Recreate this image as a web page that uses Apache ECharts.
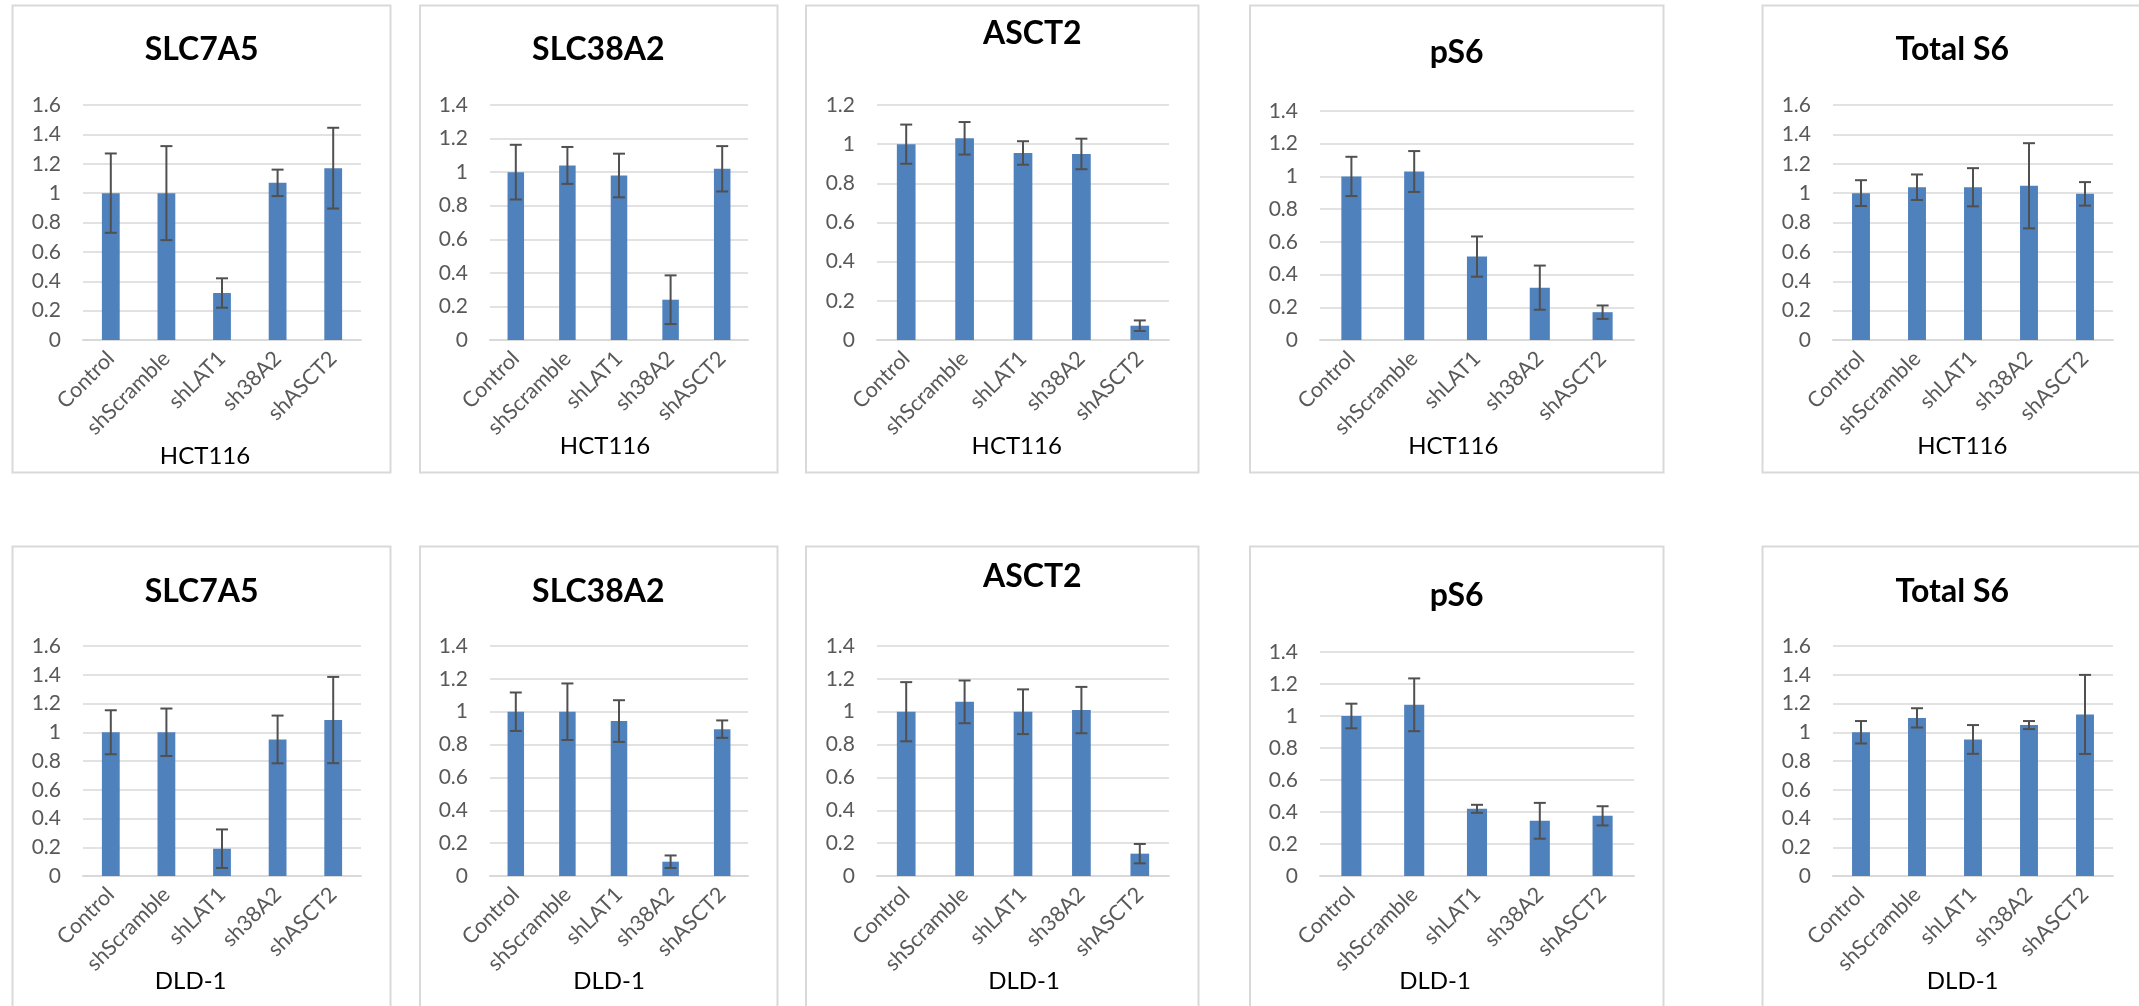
<!DOCTYPE html>
<html>
<head>
<meta charset="utf-8">
<script src="https://cdn.jsdelivr.net/npm/echarts@6/dist/echarts.min.js"></script>
<style>
html,body{margin:0;padding:0;background:#ffffff;}
#c{width:2139px;height:1006px;}
</style>
</head>
<body>
<div id="c"></div>
<script>
// ---------- data ----------
const categories = ['Control', 'shScramble', 'shLAT1', 'sh38A2', 'shASCT2'];
const chartTitles = ['SLC7A5', 'SLC38A2', 'ASCT2', 'pS6', 'Total S6'];
const cellLines = ['HCT116', 'DLD-1'];

// HCT116
const slc7a5H = [1.00, 1.00, 0.32, 1.07, 1.17];
const slc7a5HErr = [0.27, 0.32, 0.10, 0.09, 0.275];
const slc38a2H = [1.00, 1.04, 0.98, 0.24, 1.02];
const slc38a2HErr = [0.163, 0.11, 0.13, 0.145, 0.135];
const asct2H = [1.00, 1.03, 0.955, 0.95, 0.073];
const asct2HErr = [0.10, 0.083, 0.06, 0.078, 0.027];
const ps6H = [1.00, 1.03, 0.51, 0.32, 0.17];
const ps6HErr = [0.12, 0.125, 0.123, 0.135, 0.041];
const totalS6H = [1.00, 1.04, 1.04, 1.05, 0.995];
const totalS6HErr = [0.088, 0.087, 0.13, 0.29, 0.08];

// DLD-1
const slc7a5D = [1.00, 1.00, 0.19, 0.95, 1.085];
const slc7a5DErr = [0.153, 0.165, 0.134, 0.166, 0.30];
const slc38a2D = [1.00, 1.00, 0.943, 0.087, 0.894];
const slc38a2DErr = [0.117, 0.172, 0.127, 0.038, 0.053];
const asct2D = [1.00, 1.06, 1.00, 1.01, 0.136];
const asct2DErr = [0.18, 0.13, 0.136, 0.141, 0.059];
const ps6D = [1.00, 1.07, 0.42, 0.345, 0.376];
const ps6DErr = [0.077, 0.165, 0.025, 0.112, 0.06];
const totalS6D = [1.00, 1.10, 0.95, 1.05, 1.124];
const totalS6DErr = [0.078, 0.067, 0.10, 0.028, 0.275];

// y-axis maxima (tick step 0.2)
const yMaxH = [1.6, 1.4, 1.2, 1.4, 1.6];
const yMaxD = [1.6, 1.4, 1.4, 1.4, 1.6];
const yStep = 0.2;

// ---------- layout (pixels) ----------
const gridBoxes = [
  [83, 105, 278, 235], [490, 105, 258, 235], [877, 105, 292, 235], [1320, 111, 314, 229], [1833, 105, 280, 235],
  [83, 646, 278, 230], [490, 646, 258, 230], [877, 646, 292, 230], [1320, 652, 314, 224], [1833, 646, 280, 230]
];
const titlePos = [
  [201.7, 50], [598.3, 50], [1032.3, 33.7], [1456.7, 53], [1952.3, 49.5],
  [201.7, 591.7], [598.3, 591.7], [1032.3, 576.2], [1456.7, 595.5], [1952.3, 591.2]
];
const cellPos = [
  [205, 456.7], [605, 446], [1016.7, 446], [1453.3, 446], [1962.3, 446],
  [190.7, 981.7], [609, 981.7], [1024, 981.7], [1435, 981.7], [1962.7, 981.7]
];
const panelBoxes = [
  [12.5, 5.5, 378, 467], [420, 5.5, 357.5, 467], [806, 5.5, 392.5, 467], [1250, 5.5, 413.5, 467], [1762.5, 5.5, 400, 467],
  [12.5, 546.5, 378, 480], [420, 546.5, 357.5, 480], [806, 546.5, 392.5, 480], [1250, 546.5, 413.5, 480], [1762.5, 546.5, 400, 480]
];

const valuesAll = [slc7a5H, slc38a2H, asct2H, ps6H, totalS6H, slc7a5D, slc38a2D, asct2D, ps6D, totalS6D];
const errsAll = [slc7a5HErr, slc38a2HErr, asct2HErr, ps6HErr, totalS6HErr, slc7a5DErr, slc38a2DErr, asct2DErr, ps6DErr, totalS6DErr];
const yMaxAll = yMaxH.concat(yMaxD);

const FONT = 'Lato, "Open Sans", sans-serif';
const GRID_COLOR = '#D9D9D9';
const BAR_COLOR = '#4F81BD';
const ERR_COLOR = '#505050';
const LABEL_COLOR = '#595959';

const grids = [], xAxes = [], yAxes = [], series = [], titles = [], graphics = [];

for (let i = 0; i < 10; i++) {
  const [gl, gt, gw, gh] = gridBoxes[i];
  grids.push({ left: gl, top: gt, width: gw, height: gh, containLabel: false });
  xAxes.push({
    type: 'category', gridIndex: i, data: categories,
    axisTick: { show: false },
    axisLine: { show: true, lineStyle: { color: GRID_COLOR, width: 2 } },
    axisLabel: { interval: 0, rotate: 45, margin: 15, color: LABEL_COLOR, fontFamily: FONT, fontSize: 21.5 }
  });
  yAxes.push({
    type: 'value', gridIndex: i, min: 0, max: yMaxAll[i], interval: yStep,
    axisLine: { show: false }, axisTick: { show: false },
    splitLine: { show: true, lineStyle: { color: GRID_COLOR, width: 1.5 } },
    axisLabel: {
      margin: 22, color: LABEL_COLOR, fontFamily: FONT, fontSize: 21,
      formatter: v => String(Math.round(v * 10) / 10)
    }
  });
  series.push({
    type: 'bar', xAxisIndex: i, yAxisIndex: i, data: valuesAll[i],
    barWidth: '32%', itemStyle: { color: BAR_COLOR }, silent: true, animation: false
  });
  const errData = valuesAll[i].map((v, k) => [k, v - errsAll[i][k], v + errsAll[i][k]]);
  series.push({
    type: 'custom', xAxisIndex: i, yAxisIndex: i, data: errData, silent: true, animation: false,
    encode: { x: 0, y: [1, 2] }, z: 5,
    renderItem: function (params, api) {
      const k = api.value(0);
      const pHi = api.coord([k, api.value(2)]);
      const pLo = api.coord([k, api.value(1)]);
      const hw = 6;
      const st = { stroke: ERR_COLOR, lineWidth: 2 };
      return {
        type: 'group', children: [
          { type: 'line', shape: { x1: pHi[0], y1: pHi[1], x2: pLo[0], y2: pLo[1] }, style: st },
          { type: 'line', shape: { x1: pHi[0] - hw, y1: pHi[1], x2: pHi[0] + hw, y2: pHi[1] }, style: st },
          { type: 'line', shape: { x1: pLo[0] - hw, y1: pLo[1], x2: pLo[0] + hw, y2: pLo[1] }, style: st }
        ]
      };
    }
  });
  titles.push({
    text: chartTitles[i % 5], left: titlePos[i][0], top: titlePos[i][1], padding: 0,
    textAlign: 'center', textVerticalAlign: 'middle',
    textStyle: { fontFamily: FONT, fontWeight: 'bold', fontSize: 32, color: '#000000' }
  });
  titles.push({
    text: cellLines[i < 5 ? 0 : 1], left: cellPos[i][0], top: cellPos[i][1], padding: 0,
    textAlign: 'center', textVerticalAlign: 'middle',
    textStyle: { fontFamily: FONT, fontWeight: 'normal', fontSize: 24, color: '#000000' }
  });
  const [bx, by, bw, bh] = panelBoxes[i];
  graphics.push({
    type: 'rect', shape: { x: bx, y: by, width: bw, height: bh }, silent: true, z: -10,
    style: { fill: 'none', stroke: GRID_COLOR, lineWidth: 2 }
  });
}

const chart = echarts.init(document.getElementById('c'), null, { renderer: 'canvas' });
chart.setOption({
  backgroundColor: '#ffffff',
  animation: false,
  title: titles,
  grid: grids,
  xAxis: xAxes,
  yAxis: yAxes,
  series: series,
  graphic: graphics
});
</script>
</body>
</html>
